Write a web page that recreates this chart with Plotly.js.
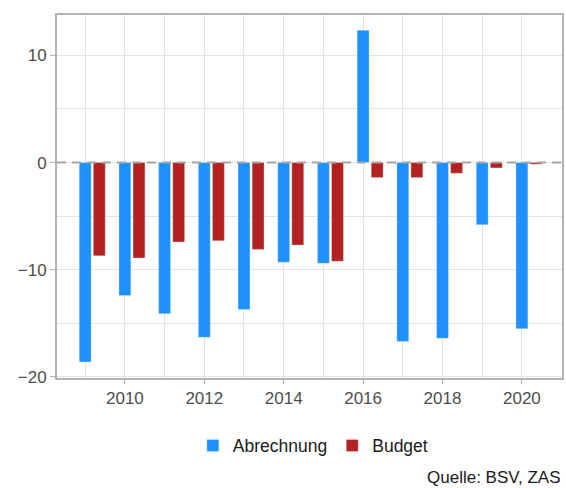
<!DOCTYPE html>
<html>
<head>
<meta charset="utf-8">
<script src="https://cdn.plot.ly/plotly-3.0.1.min.js"></script>
<style>
  body { margin: 0; }
  #chart { width: 566px; height: 488px; }
</style>
</head>
<body>
<div id="chart"></div>
<script>
// Jahre und Werte (Mrd. CHF)
var years = [2009, 2010, 2011, 2012, 2013, 2014, 2015, 2016, 2017, 2018, 2019, 2020];
var abrechnung = [-18.6, -12.4, -14.1, -16.3, -13.7, -9.3, -9.4, 12.35, -16.7, -16.4, -5.8, -15.5];
var budget = [-8.7, -8.9, -7.4, -7.3, -8.1, -7.7, -9.2, -1.4, -1.4, -1.0, -0.5, -0.15];

var barWidth = 0.3;

var traces = [
  {
    x: years,
    y: abrechnung,
    name: 'Abrechnung',
    type: 'bar',
    width: barWidth,
    offset: -0.15,
    marker: { color: '#1e90ff', line: { color: 'rgba(255,255,255,0.6)', width: 0.5 } },
    hoverinfo: 'x+y'
  },
  {
    x: years,
    y: budget,
    name: 'Budget',
    type: 'bar',
    width: barWidth,
    offset: 0.205,
    marker: { color: '#b22222', line: { color: 'rgba(255,255,255,0.6)', width: 0.5 } },
    hoverinfo: 'x+y'
  }
];

var gridCol = '#e3e3e3';

var layout = {
  width: 566,
  height: 488,
  margin: { l: 57, r: 4, t: 15, b: 110 },
  paper_bgcolor: '#ffffff',
  plot_bgcolor: '#ffffff',
  font: { family: 'Liberation Sans, Arial, sans-serif', size: 17, color: '#4d4d4d' },
  barmode: 'overlay',
  showlegend: true,
  legend: {
    orientation: 'h',
    x: 0.269,
    xanchor: 'left',
    y: -0.186,
    yanchor: 'middle',
    font: { size: 17.5, color: '#1a1a1a' },
    itemwidth: 30,
    traceorder: 'normal'
  },
  xaxis: {
    range: [2008.29, 2021.01],
    tickmode: 'linear',
    tick0: 2010,
    dtick: 2,
    ticks: 'outside',
    ticklen: 4,
    tickcolor: '#b3b3b3',
    showgrid: true,
    gridcolor: gridCol,
    gridwidth: 1,
    minor: { dtick: 1, tick0: 2009, showgrid: true, gridcolor: gridCol, gridwidth: 1 },
    showline: true,
    linecolor: '#b3b3b3',
    linewidth: 2,
    mirror: true,
    zeroline: false,
    fixedrange: true
  },
  yaxis: {
    range: [-20.1, 13.77],
    tickmode: 'linear',
    tick0: 0,
    dtick: 10,
    ticks: 'outside',
    ticklen: 5,
    tickcolor: '#b3b3b3',
    showgrid: true,
    gridcolor: gridCol,
    gridwidth: 1,
    minor: { dtick: 5, showgrid: true, gridcolor: gridCol, gridwidth: 1 },
    showline: true,
    linecolor: '#b3b3b3',
    linewidth: 2,
    mirror: true,
    zeroline: false,
    fixedrange: true
  },
  shapes: [
    {
      type: 'line',
      xref: 'paper', x0: 0, x1: 1,
      yref: 'y', y0: 0, y1: 0,
      layer: 'above',
      line: { color: '#a6a6a6', width: 2, dash: '9px,6px' }
    }
  ],
  annotations: [
    {
      text: 'Quelle: BSV, ZAS',
      xref: 'paper', yref: 'paper',
      x: 1.002, y: -0.275,
      xanchor: 'right', yanchor: 'middle',
      showarrow: false,
      font: { size: 17, color: '#1a1a1a' }
    }
  ]
};

Plotly.newPlot('chart', traces, layout, { displayModeBar: false, staticPlot: true });
</script>
</body>
</html>
